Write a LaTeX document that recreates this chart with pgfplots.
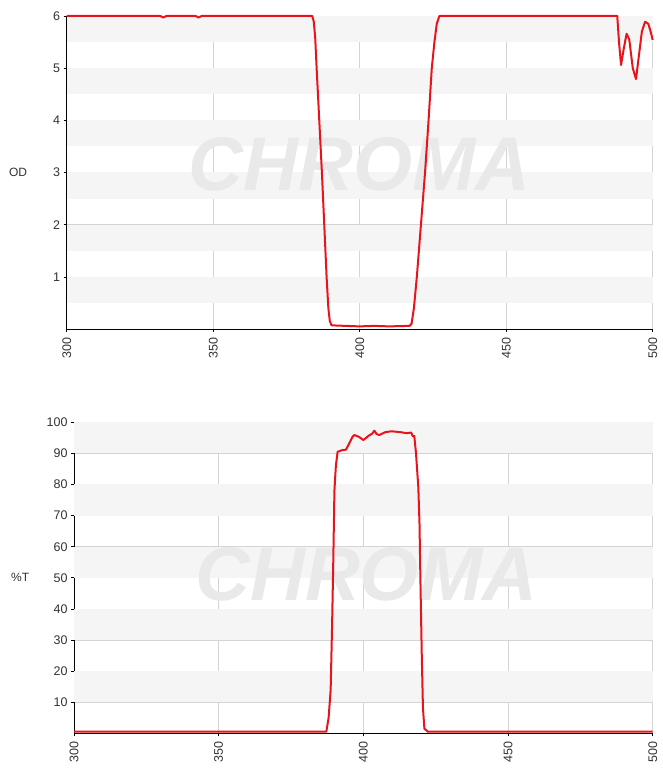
\documentclass[border=0pt]{standalone}
\usepackage{fontspec}
\setmainfont{Liberation Sans}
\usepackage{pgfplots}
\pgfplotsset{compat=1.18}

\definecolor{lineRed}{HTML}{E8141B}
\definecolor{band}{HTML}{F5F5F5}
\definecolor{gridc}{HTML}{D4D4D4}
\definecolor{wm}{HTML}{E9E9E9}

\pgfplotsset{
  filterax/.style={
    set layers,
    scale only axis,
    xmin=300, xmax=500,
    xtick={300,350,...,500},
    axis x line*=bottom,
    axis y line*=left,
    axis line style={black, line width=0.8pt},
    tick style={black, line width=0.6pt},
    tick align=outside,
    major tick length=3pt,
    grid=major,
    major grid style={gridc, line width=0.6pt},
    tick label style={font=\fontsize{12.5}{14}\selectfont, text=black!80},
    /pgf/number format/assume math mode=true,
    x tick label style={rotate=90, anchor=east, xshift=-2pt},
    ylabel style={rotate=-90, anchor=center, font=\fontsize{12}{14}\selectfont, text=black!80},
    clip=false,
  },
}

\begin{document}
\begin{tikzpicture}
\path (0,0) rectangle (662pt,776pt);

% ---- OD ----
\begin{axis}[
  filterax,
  at={(66.7pt,447pt)}, anchor=south west,
  width=586pt, height=313pt,
  ymin=0, ymax=6,
  ytick={1,2,3,4,5,6},
  ylabel={OD},
  ylabel style={at={(axis description cs:-0.083,0.5)}},
]
\pgfplotsinvokeforeach{0.5,1.5,2.5,3.5,4.5,5.5}{
  \fill[band, on layer=axis background] (axis cs:300,#1) rectangle (axis cs:500,#1+0.5);
}
\node[wm, on layer=axis background, font=\fontsize{76}{80}\selectfont\bfseries\itshape] at (axis cs:400,3.15) {CHROMA};
\addplot[lineRed, line width=2pt, line join=round] coordinates {
  (300,6) (332,6) (333,5.97) (334,6) (344,6) (345,5.97) (346,6)
  (383.8,6) (384.3,5.9) (384.8,5.6) (385.3,5.0) (386.2,4.0) (387.1,3.0)
  (387.9,2.0) (388.7,1.0) (389.3,0.4) (389.8,0.15) (390.4,0.07)
  (395,0.06) (400,0.05) (405,0.06) (410,0.05) (417,0.06)
  (417.7,0.1) (418.5,0.4) (419.5,1.0) (420.9,2.0) (422.3,3.0) (423.5,4.0)
  (424.6,5.0) (425.5,5.5) (426.3,5.85) (427.2,6)
  (487.9,6) (488.5,5.5) (489.2,5.06) (490.2,5.4) (491.1,5.66) (492,5.55)
  (493.2,5.0) (494.3,4.79) (495.2,5.2) (496.3,5.7) (497.4,5.89)
  (498.5,5.85) (499.3,5.7) (500,5.54)
};
\end{axis}

% ---- %T ----
\begin{axis}[
  filterax,
  at={(74pt,42.7pt)}, anchor=south west,
  width=578.7pt, height=311pt,
  ymin=0, ymax=100,
  ytick={10,20,...,100},
  ylabel={\%T},
  ylabel style={at={(axis description cs:-0.093,0.5)}},
]
\pgfplotsinvokeforeach{10,30,50,70,90}{
  \fill[band, on layer=axis background] (axis cs:300,#1) rectangle (axis cs:500,#1+10);
}
\node[wm, on layer=axis background, font=\fontsize{76}{80}\selectfont\bfseries\itshape] at (axis cs:401,51) {CHROMA};
\addplot[lineRed, line width=2pt, line join=round] coordinates {
  (300,0.5) (387.2,0.5) (388,5) (388.7,14) (389.2,35) (389.6,55) (390,78)
  (390.5,86) (391.1,90.5) (392.5,91) (394,91.2) (395,93) (396.3,95.4)
  (396.9,95.9) (398.5,95.3) (400,94.3) (402,95.8) (403,96.3) (403.8,97.3)
  (404.6,96.2) (405.5,95.9) (407.5,96.8) (409.6,97.1) (411,97) (413,96.8)
  (415,96.5) (416.5,96.7) (417.1,95.5) (417.6,95.6) (418.2,90) (419,79)
  (419.4,67.6) (419.8,45) (420.2,24.6) (420.6,8) (421.1,1.5) (422.3,0.5)
  (500,0.5)
};
\end{axis}
\end{tikzpicture}
\end{document}
